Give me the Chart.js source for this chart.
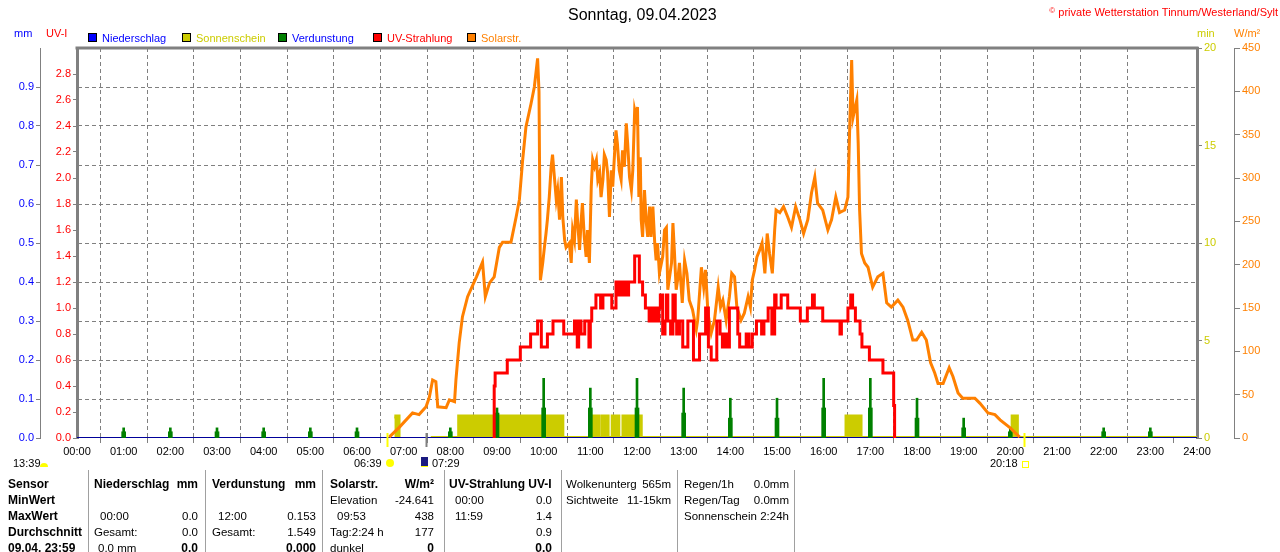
<!DOCTYPE html>
<html>
<head>
<meta charset="utf-8">
<script src="https://cdn.jsdelivr.net/npm/chart.js@4.4.0/dist/chart.umd.min.js"></script>
<style>
  body { margin: 0; background: #fff; overflow: hidden; font-family: "Liberation Sans", Arial, sans-serif; font-size: 11px; }
  #wrap { position: relative; width: 1280px; height: 552px; overflow: hidden; }
  #wrap canvas { position: absolute; left: 0; top: 0; }
  .t { position: absolute; white-space: nowrap; line-height: 14px; }
  #table .t { font-size: 11.5px; }
  #table .b { font-size: 12px; font-weight: bold; }
  .vl { position: absolute; top: 470px; height: 82px; width: 1px; background: #a0a0a0; }
  .sq { position: absolute; top: 33px; width: 7px; height: 7px; border: 1px solid #000; }
</style>
</head>
<body>
<div id="wrap">
  <canvas id="chart" width="1280" height="552"></canvas>

  <div class="t" style="left:568px;top:5px;font-size:16px;line-height:20px;color:#000">Sonntag, 09.04.2023</div>
  <div class="t" style="right:2px;top:4px;color:#ff0000"><span style="font-size:8px;vertical-align:3px">©</span> private Wetterstation Tinnum/Westerland/Sylt</div>

  <div class="t" style="left:14px;top:26px;color:#0000ff">mm</div>
  <div class="t" style="left:46px;top:26px;color:#ff0000">UV-I</div>
  <div class="t" style="left:1197px;top:26px;color:#cccc00">min</div>
  <div class="t" style="left:1234px;top:26px;color:#ff8000">W/m²</div>

  <div class="sq" style="left:88px;background:#0000ff"></div>
  <div class="t" style="left:102px;top:31px;color:#0000ff">Niederschlag</div>
  <div class="sq" style="left:182px;background:#cccc00"></div>
  <div class="t" style="left:196px;top:31px;color:#cccc00">Sonnenschein</div>
  <div class="sq" style="left:278px;background:#008000"></div>
  <div class="t" style="left:292px;top:31px;color:#0000ff">Verdunstung</div>
  <div class="sq" style="left:373px;background:#ff0000"></div>
  <div class="t" style="left:387px;top:31px;color:#ff0000">UV-Strahlung</div>
  <div class="sq" style="left:467px;background:#ff8000"></div>
  <div class="t" style="left:481px;top:31px;color:#ff8000">Solarstr.</div>

  <div class="t" style="left:13px;top:456px">13:39</div>
  <div style="position:absolute;left:40px;top:463px;width:8px;height:4px;background:#ffff00;border-radius:4px 4px 0 0"></div>
  <div class="t" style="left:354px;top:456px">06:39</div>
  <div style="position:absolute;left:386px;top:459px;width:8px;height:8px;background:#ffff00;border-radius:50%"></div>
  <div style="position:absolute;left:421px;top:457px;width:7px;height:9px;background:#1a1a80;border-bottom:1px solid #ffff00"></div>
  <div class="t" style="left:432px;top:456px">07:29</div>
  <div class="t" style="left:990px;top:456px">20:18</div>
  <div style="position:absolute;left:1022px;top:461px;width:5px;height:5px;border:1px solid #ffff00"></div>

  <div id="table"></div>
</div>

<script>
// x values are hours of the day (0..24)
const hourRange = [0, 24];

// Solarstrahlung (W/m²)
const solarTime = [
  6.69, 6.9, 7.19, 7.33, 7.48, 7.55, 7.62, 7.69, 7.73, 7.91,
  7.98, 8.09, 8.12, 8.19, 8.26, 8.37, 8.56, 8.69, 8.75, 8.84,
  8.94, 9.05, 9.12, 9.3, 9.41, 9.48, 9.55, 9.62, 9.73, 9.8,
  9.87, 9.9, 9.93, 9.98, 10.01, 10.05, 10.08, 10.12, 10.16, 10.19,
  10.23, 10.27, 10.3, 10.34, 10.38, 10.41, 10.45, 10.48, 10.55, 10.59,
  10.62, 10.66, 10.7, 10.73, 10.77, 10.8, 10.83, 10.87, 10.91, 10.94,
  10.98, 11.02, 11.05, 11.09, 11.13, 11.16, 11.2, 11.23, 11.27, 11.3,
  11.34, 11.37, 11.41, 11.45, 11.48, 11.52, 11.55, 11.58, 11.62, 11.66,
  11.69, 11.73, 11.77, 11.8, 11.84, 11.88, 11.91, 11.95, 11.98, 12.01,
  12.04, 12.07, 12.09, 12.12, 12.16, 12.2, 12.23, 12.27, 12.3, 12.34,
  12.38, 12.41, 12.44, 12.48, 12.55, 12.59, 12.63, 12.66, 12.74, 12.77,
  12.8, 12.84, 12.88, 12.91, 12.97, 13.02, 13.07, 13.12, 13.19, 13.27,
  13.3, 13.38, 13.43, 13.47, 13.52, 13.59, 13.66, 13.74, 13.79, 13.84,
  13.91, 13.98, 14.03, 14.09, 14.14, 14.23, 14.3, 14.38, 14.43, 14.47,
  14.52, 14.57, 14.63, 14.68, 14.74, 14.79, 14.84, 14.9, 14.95, 14.98,
  15.06, 15.14, 15.23, 15.31, 15.4, 15.49, 15.57, 15.66, 15.74, 15.81,
  15.87, 15.98, 16.09, 16.17, 16.26, 16.34, 16.45, 16.52, 16.56, 16.6,
  16.63, 16.71, 16.74, 16.77, 16.81, 16.88, 16.95, 17.05, 17.16, 17.27,
  17.35, 17.45, 17.59, 17.7, 17.8, 17.91, 17.99, 18.1, 18.2, 18.29,
  18.38, 18.45, 18.56, 18.69, 18.77, 18.88, 18.98, 19.24, 19.35, 19.52,
  19.67, 19.78, 19.99, 20.2
];
const solarValue = [
  1, 12, 29, 27, 36, 47, 67, 65, 36, 35,
  44, 42, 67, 110, 140, 163, 186, 203, 163, 179,
  186, 220, 226, 226, 255, 275, 321, 359, 386, 405,
  438, 400, 182, 202, 217, 236, 252, 278, 313, 327,
  301, 275, 286, 252, 301, 255, 228, 220, 225, 202,
  240, 228, 275, 248, 217, 248, 271, 232, 209, 240,
  202, 290, 321, 313, 321, 298, 306, 278, 298, 327,
  321, 306, 255, 309, 290, 329, 355, 340, 309, 298,
  332, 313, 363, 340, 301, 286, 309, 378, 370, 382,
  278, 324, 252, 232, 286, 248, 232, 267, 232, 267,
  225, 205, 225, 190, 209, 240, 243, 171, 202, 248,
  217, 171, 186, 202, 156, 205, 190, 159, 148, 125,
  136, 197, 174, 194, 144, 121, 136, 174, 151, 159,
  136, 163, 190, 186, 151, 136, 144, 163, 151, 182,
  194, 209, 217, 225, 190, 236, 213, 190, 240, 263,
  260, 267, 255, 243, 267, 252, 236, 252, 283, 301,
  271, 263, 240, 252, 278, 260, 263, 278, 363, 436,
  370, 390, 340, 263, 213, 202, 197, 174, 186, 190,
  156, 151, 159, 151, 136, 113, 113, 122, 113, 87,
  75, 63, 63, 81, 71, 52, 46, 46, 40, 29,
  27, 21, 12, 1
];

// UV-Strahlung (UV-Index), stepped
const uvTime = [
  8.93, 8.94, 8.96, 9.22, 9.5, 9.72, 9.87, 9.95, 10.08, 10.2,
  10.43, 10.66, 10.72, 10.75, 10.8, 10.88, 10.97, 11.0, 11.03, 11.12,
  11.22, 11.27, 11.46, 11.55, 11.6, 11.64, 11.7, 11.73, 11.78, 11.82,
  11.95, 12.05, 12.12, 12.18, 12.26, 12.3, 12.34, 12.38, 12.43, 12.47,
  12.5, 12.55, 12.6, 12.63, 12.66, 12.72, 12.77, 12.82, 12.85, 12.91,
  12.98, 13.09, 13.21, 13.34, 13.47, 13.53, 13.59, 13.71, 13.78, 13.83,
  13.88, 13.93, 13.98, 14.16, 14.2, 14.34, 14.4, 14.47, 14.56, 14.67,
  14.72, 14.81, 14.89, 14.95, 14.98, 15.09, 15.23, 15.5, 15.65, 15.76,
  15.8, 15.98, 16.35, 16.38, 16.52, 16.58, 16.62, 16.68, 16.78, 16.82,
  16.98, 17.27, 17.5, 17.52
];
const uvIndex = [
  0, 0.4, 0.5, 0.6, 0.7, 0.8, 0.9, 0.7, 0.8, 0.9,
  0.8, 0.9, 0.7, 0.9, 0.8, 0.9, 0.7, 0.9, 1.0, 1.1,
  1.0, 1.1, 1.0, 1.2, 1.1, 1.2, 1.1, 1.2, 1.1, 1.2,
  1.4, 1.2, 1.1, 1.0, 0.9, 1.0, 0.9, 1.0, 0.9, 1.0,
  1.1, 0.8, 0.9, 1.1, 0.9, 0.8, 1.1, 0.9, 0.8, 0.9,
  0.7, 0.9, 0.6, 0.8, 1.0, 0.7, 0.6, 0.9, 0.8, 0.7,
  0.8, 0.7, 1.0, 0.8, 0.7, 0.8, 0.7, 0.8, 0.9, 0.8,
  0.9, 1.0, 0.8, 1.1, 1.0, 1.1, 1.0, 0.9, 1.0, 1.1,
  1.0, 0.9, 0.8, 0.9, 1.0, 1.1, 1.0, 0.9, 0.8, 0.7,
  0.6, 0.5, 0.25, 0
];

// Verdunstung (mm) - hourly spikes, peak and shoulder
const evapHour     = [1, 2, 3, 4, 5, 6, 8, 9, 10, 11, 12, 13, 14, 15, 16, 17, 18, 19, 20, 22, 23];
const evapPeak     = [0.026, 0.026, 0.026, 0.026, 0.026, 0.026, 0.026, 0.077, 0.153, 0.128, 0.153,
                      0.128, 0.102, 0.102, 0.153, 0.153, 0.102, 0.051, 0.026, 0.026, 0.026];
const evapShoulder = [0.016, 0.016, 0.016, 0.016, 0.016, 0.016, 0.016, 0.064, 0.077, 0.077, 0.077,
                      0.064, 0.051, 0.051, 0.077, 0.077, 0.051, 0.026, 0.016, 0.016, 0.016];

// Sonnenschein (min), stepped blocks; null breaks the line
const sunTime    = [6.8, 6.89, 7.0, 7.58, 8.19, 9.93, 10.08, 10.4, 11.05, 11.17, 11.26, 11.37,
                    11.48, 11.6, 11.71, 11.82, 11.9, 12.08, 16.49, 16.79, 20.05, 20.14, 24];
const sunMinutes = [1.1, 0, null, 0, 1.1, 0, 1.1, 0, 1.1, 0, 1.1, 0,
                    1.1, 0, 1.1, 0, 1.1, 0, 1.1, 0, 1.1, 0, 0];

// Niederschlag (mm)
const rainTime  = [0, 24];
const rainValue = [0, 0];

// Sonnenaufgang / Dämmerung / Sonnenuntergang markers
const markTime  = [6.65, 7.483, 20.3];
const markColor = ["#ffff00", "#808080", "#ffff00"];

const pts = (xs, ys) => xs.map((x, i) => ({ x: x, y: ys[i] }));
const tickFont = { family: "'Liberation Sans', Arial, sans-serif", size: 11 };
const clear = "rgba(0,0,0,0)";

const framePlugin = {
    id: "frame",
    afterDraw(chart) {
        const { ctx, chartArea: a, scales: { x } } = chart;
        ctx.save();
        ctx.strokeStyle = "#808080";
        ctx.lineWidth = 3;
        ctx.beginPath();
        ctx.moveTo(a.left - 1.5, a.top);
        ctx.lineTo(a.right + 1.5, a.top);
        ctx.stroke();
        markTime.forEach((t, i) => {
            const px = Math.round(x.getPixelForValue(t)) + 0.5;
            ctx.strokeStyle = markColor[i];
            ctx.lineWidth = 2;
            ctx.beginPath();
            ctx.moveTo(px, a.bottom - 5);
            ctx.lineTo(px, a.bottom + 9);
            ctx.stroke();
        });
        ctx.restore();
    }
};

new Chart(document.getElementById("chart").getContext("2d"), {
    type: "line",
    data: {
        datasets: [
            {
                label: "UV-Strahlung", yAxisID: "yUV", order: 0,
                data: pts(uvTime, uvIndex),
                borderColor: "#ff0000", borderWidth: 3, stepped: true, pointRadius: 0, fill: false
            },
            {
                label: "Solarstr.", yAxisID: "yW", order: 1,
                data: pts(solarTime, solarValue),
                borderColor: "#ff8000", borderWidth: 3, tension: 0, pointRadius: 0, fill: false
            },
            {
                type: "bar", label: "Verdunstung", yAxisID: "yMM", order: 2,
                data: pts(evapHour, evapPeak),
                backgroundColor: "#008000", barThickness: 2, grouped: false
            },
            {
                type: "bar", label: "Verdunstung (Anstieg)", yAxisID: "yMM", order: 3,
                data: pts(evapHour, evapShoulder),
                backgroundColor: "#008000", barThickness: 4, grouped: false
            },
            {
                label: "Niederschlag", yAxisID: "yMM", order: 4,
                data: pts(rainTime, rainValue),
                borderColor: "#000099", borderWidth: 2, pointRadius: 0, fill: false
            },
            {
                label: "Sonnenschein", yAxisID: "yMin", order: 5,
                data: pts(sunTime, sunMinutes),
                borderColor: "#cccc00", backgroundColor: "#cccc00", borderWidth: 4,
                stepped: true, pointRadius: 0, fill: "origin", spanGaps: false
            }
        ]
    },
    options: {
        responsive: false,
        devicePixelRatio: 1,
        animation: false,
        events: [],
        layout: { padding: { top: 48, bottom: 90, left: 0, right: 0 } },
        plugins: { legend: { display: false }, tooltip: { enabled: false } },
        scales: {
            x: {
                type: "linear", min: hourRange[0], max: hourRange[1], offset: false,
                ticks: {
                    stepSize: 1, autoSkip: false, maxRotation: 0, color: "#000", font: tickFont, padding: 2,
                    callback: v => String(v).padStart(2, "0") + ":00"
                },
                grid: {
                    color: c => (c.tick && (c.tick.value === 0 || c.tick.value === 24)) ? clear : "#808080",
                    tickColor: "#808080", tickLength: 5, lineWidth: 1
                },
                border: { display: false, dash: [4, 3] },
                afterFit: s => { s.height = 24; }
            },
            yMM: {
                position: "left", min: 0, max: 1, weight: 1,
                ticks: { stepSize: 0.1, color: "#0000ff", font: tickFont, padding: 2, callback: v => v.toFixed(1) },
                afterBuildTicks: s => { s.ticks = s.ticks.filter(t => t.value < 0.95); },
                grid: {
                    color: c => (c.tick && c.tick.value > 0.05) ? "#808080" : clear,
                    tickColor: "#808080", tickLength: 4
                },
                border: { display: true, color: "#808080", width: 1, dash: [4, 3] },
                afterFit: s => { s.width = 40; }
            },
            yUV: {
                position: "left", min: 0, max: 3, weight: 0,
                ticks: { stepSize: 0.2, color: "#ff0000", font: tickFont, padding: 2, callback: v => v.toFixed(1) },
                afterBuildTicks: s => { s.ticks = s.ticks.filter(t => t.value < 2.9); },
                grid: { drawOnChartArea: false, tickColor: "#808080", tickLength: 4 },
                border: { color: "#808080", width: 3 },
                afterFit: s => { s.width = 37; }
            },
            yMin: {
                position: "right", min: 0, max: 20, weight: 0,
                ticks: { stepSize: 5, color: "#cccc00", font: tickFont, padding: 2 },
                grid: { drawOnChartArea: false, tickColor: "#808080", tickLength: 5 },
                border: { color: "#808080", width: 3 },
                afterFit: s => { s.width = 37; }
            },
            yW: {
                position: "right", min: 0, max: 450, weight: 1,
                ticks: { stepSize: 50, color: "#ff8000", font: tickFont, padding: 2 },
                grid: { drawOnChartArea: false, tickColor: "#808080", tickLength: 6 },
                border: { color: "#808080", width: 1 },
                afterFit: s => { s.width = 46; }
            }
        }
    },
    plugins: [framePlugin]
});

// Table below the chart: [text, x, row, align, bold]
const cells = [
    ["Sensor", 8, 0, "l", 1], ["MinWert", 8, 1, "l", 1], ["MaxWert", 8, 2, "l", 1],
    ["Durchschnitt", 8, 3, "l", 1], ["09.04. 23:59", 8, 4, "l", 1],
    ["Niederschlag", 94, 0, "l", 1], ["mm", 198, 0, "r", 1],
    ["00:00", 100, 2, "l", 0], ["0.0", 198, 2, "r", 0],
    ["Gesamt:", 94, 3, "l", 0], ["0.0", 198, 3, "r", 0],
    ["0.0 mm", 98, 4, "l", 0], ["0.0", 198, 4, "r", 1],
    ["Verdunstung", 212, 0, "l", 1], ["mm", 316, 0, "r", 1],
    ["12:00", 218, 2, "l", 0], ["0.153", 316, 2, "r", 0],
    ["Gesamt:", 212, 3, "l", 0], ["1.549", 316, 3, "r", 0],
    ["0.000", 316, 4, "r", 1],
    ["Solarstr.", 330, 0, "l", 1], ["W/m²", 434, 0, "r", 1],
    ["Elevation", 330, 1, "l", 0], ["-24.641", 434, 1, "r", 0],
    ["09:53", 337, 2, "l", 0], ["438", 434, 2, "r", 0],
    ["Tag:2:24 h", 330, 3, "l", 0], ["177", 434, 3, "r", 0],
    ["dunkel", 330, 4, "l", 0], ["0", 434, 4, "r", 1],
    ["UV-Strahlung UV-I", 449, 0, "l", 1],
    ["00:00", 455, 1, "l", 0], ["0.0", 552, 1, "r", 0],
    ["11:59", 455, 2, "l", 0], ["1.4", 552, 2, "r", 0],
    ["0.9", 552, 3, "r", 0], ["0.0", 552, 4, "r", 1],
    ["Wolkenunterg", 566, 0, "l", 0], ["565m", 671, 0, "r", 0],
    ["Sichtweite", 566, 1, "l", 0], ["11-15km", 671, 1, "r", 0],
    ["Regen/1h", 684, 0, "l", 0], ["0.0mm", 789, 0, "r", 0],
    ["Regen/Tag", 684, 1, "l", 0], ["0.0mm", 789, 1, "r", 0],
    ["Sonnenschein", 684, 2, "l", 0], ["2:24h", 789, 2, "r", 0]
];
const tableLines = [88, 205, 322, 444, 561, 677, 794];

const table = document.getElementById("table");
tableLines.forEach(x => {
    const d = document.createElement("div");
    d.className = "vl";
    d.style.left = x + "px";
    table.appendChild(d);
});
cells.forEach(([text, x, row, align, bold]) => {
    const d = document.createElement("div");
    d.className = "t" + (bold ? " b" : "");
    d.textContent = text;
    d.style.top = (477 + row * 16) + "px";
    if (align === "l") d.style.left = x + "px";
    else d.style.right = (1280 - x) + "px";
    table.appendChild(d);
});
</script>
</body>
</html>
